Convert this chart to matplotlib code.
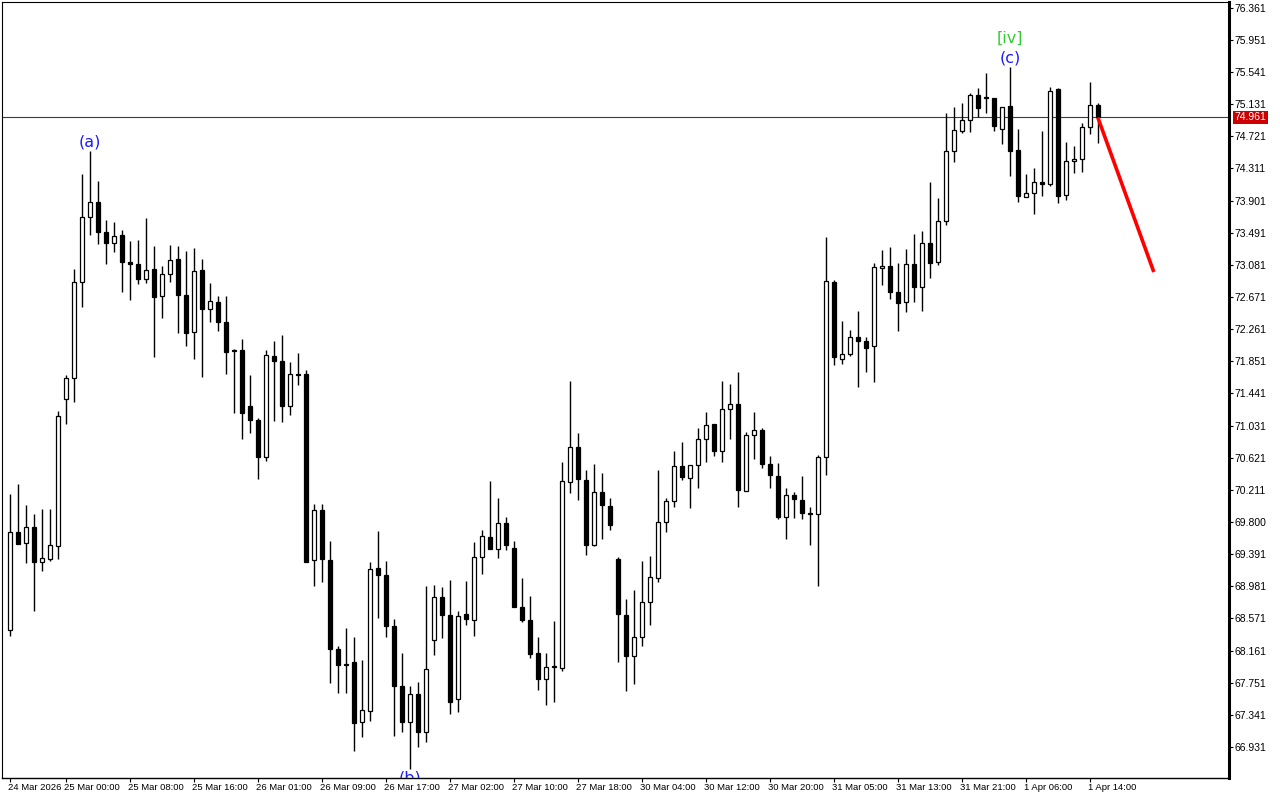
import matplotlib
matplotlib.use("Agg")
import matplotlib.pyplot as plt
import matplotlib.transforms as mtransforms

# ---------------- data (H1 candles) ----------------
opens = [68.42, 69.67, 69.53, 69.74, 69.29, 69.33, 69.50, 71.37, 71.64, 72.86,
         73.69, 73.88, 73.50, 73.36, 73.46, 73.12, 73.09, 72.90, 73.03, 72.68,
         72.97, 73.16, 72.70, 72.23, 73.02, 72.52, 72.61, 72.35, 72.00, 72.00,
         71.28, 71.10, 70.63, 71.92, 71.86, 71.28, 71.69, 71.69, 69.32, 69.95,
         69.32, 68.18, 67.99, 68.02, 67.25, 67.39, 69.21, 69.13, 68.47, 67.71,
         67.25, 67.61, 67.12, 68.30, 68.84, 68.61, 67.54, 68.63, 68.55, 69.35,
         69.61, 69.46, 69.79, 69.47, 68.72, 68.55, 68.13, 67.80, 67.95, 67.94,
         70.31, 70.76, 70.34, 69.51, 70.18, 70.01, 69.33, 68.61, 68.09, 68.33,
         68.78, 69.09, 69.80, 70.07, 70.51, 70.36, 70.53, 70.86, 71.05, 70.71,
         71.24, 71.31, 70.20, 70.91, 70.97, 70.54, 70.39, 69.86, 70.15, 70.08,
         69.92, 69.90, 70.63, 72.86, 71.88, 71.94, 72.16, 72.11, 72.05, 73.04,
         73.07, 72.74, 72.61, 73.09, 72.80, 73.36, 73.12, 73.64, 74.53, 74.79,
         74.93, 75.25, 75.22, 75.21, 74.81, 75.11, 74.55, 73.95, 74.00, 74.14,
         74.11, 75.32, 73.97, 74.41, 74.43, 74.84, 75.12]
highs = [70.16, 70.29, 70.02, 69.90, 69.97, 69.97, 71.22, 71.68, 73.03, 74.24,
         74.53, 74.15, 73.65, 73.63, 73.53, 73.39, 73.40, 73.68, 73.32, 73.07,
         73.34, 73.32, 73.26, 73.30, 73.16, 72.85, 72.68, 72.68, 72.01, 72.14,
         71.68, 71.13, 72.00, 72.11, 72.19, 71.84, 71.96, 71.74, 70.03, 70.03,
         69.56, 68.22, 68.45, 68.33, 68.04, 69.29, 69.69, 69.30, 68.56, 68.13,
         67.71, 67.76, 68.99, 69.00, 68.97, 69.06, 68.67, 69.05, 69.55, 69.70,
         70.32, 70.11, 69.86, 69.56, 69.09, 68.86, 68.33, 68.13, 68.54, 70.57,
         71.60, 70.94, 70.46, 70.54, 70.43, 70.11, 69.35, 68.82, 68.93, 69.30,
         69.37, 70.46, 70.11, 70.71, 70.82, 70.53, 71.00, 71.20, 71.05, 71.60,
         71.56, 71.71, 70.95, 71.20, 71.00, 70.64, 70.55, 70.23, 70.18, 70.39,
         69.99, 70.66, 73.44, 72.89, 72.37, 72.25, 72.49, 72.16, 73.10, 73.27,
         73.31, 73.10, 73.28, 73.47, 73.51, 74.14, 73.93, 75.02, 75.09, 75.15,
         75.27, 75.34, 75.53, 75.21, 75.09, 75.61, 74.81, 74.24, 74.32, 74.79,
         75.35, 75.34, 74.65, 74.60, 74.89, 75.41, 75.15]
lows = [68.35, 69.52, 69.28, 68.67, 69.18, 69.30, 69.33, 71.05, 71.33, 72.54,
        73.46, 73.35, 73.09, 73.25, 72.74, 72.63, 72.84, 72.85, 71.91, 72.40,
        72.86, 72.21, 72.05, 71.88, 71.65, 72.35, 72.24, 71.69, 71.19, 70.86,
        70.94, 70.35, 70.58, 71.09, 71.08, 71.17, 71.55, 69.29, 68.99, 69.04,
        67.75, 67.62, 67.62, 66.88, 67.06, 67.26, 68.58, 68.33, 67.07, 67.12,
        66.65, 66.93, 66.99, 68.10, 68.32, 67.35, 67.38, 68.49, 68.35, 69.14,
        69.46, 69.34, 69.44, 68.72, 68.53, 68.07, 67.66, 67.47, 67.50, 67.90,
        70.17, 70.08, 69.38, 69.50, 69.58, 69.70, 68.02, 67.64, 67.73, 68.22,
        68.49, 69.04, 69.67, 69.99, 70.34, 69.98, 70.23, 70.57, 70.64, 70.57,
        70.86, 69.99, 70.20, 70.60, 70.49, 70.23, 69.84, 69.58, 69.85, 69.84,
        69.51, 68.99, 70.40, 71.80, 71.82, 71.92, 71.52, 71.71, 71.59, 72.82,
        72.65, 72.24, 72.48, 72.61, 72.49, 72.91, 73.08, 73.59, 74.39, 74.76,
        74.78, 74.97, 75.02, 74.79, 74.62, 74.21, 73.88, 73.95, 73.73, 73.96,
        74.09, 73.87, 73.91, 74.25, 74.27, 74.75, 74.64]
closes = [69.67, 69.52, 69.74, 69.29, 69.34, 69.51, 71.15, 71.64, 72.86, 73.69,
          73.88, 73.50, 73.36, 73.45, 73.12, 73.09, 72.90, 73.02, 72.67, 72.97,
          73.14, 72.70, 72.21, 73.00, 72.52, 72.62, 72.35, 71.97, 71.98, 71.19,
          71.10, 70.63, 71.93, 71.86, 71.28, 71.69, 71.68, 69.29, 69.95, 69.33,
          68.18, 67.98, 67.98, 67.24, 67.40, 69.20, 69.13, 68.47, 67.71, 67.25,
          67.61, 67.12, 67.93, 68.84, 68.61, 67.50, 68.60, 68.56, 69.35, 69.62,
          69.46, 69.79, 69.51, 68.72, 68.55, 68.12, 67.80, 67.95, 67.96, 70.32,
          70.76, 70.35, 69.51, 70.18, 70.02, 69.76, 68.63, 68.09, 68.33, 68.78,
          69.10, 69.80, 70.07, 70.51, 70.37, 70.53, 70.86, 71.04, 70.71, 71.24,
          71.31, 70.21, 70.91, 70.97, 70.54, 70.40, 69.86, 70.15, 70.09, 69.92,
          69.90, 70.63, 72.87, 71.91, 71.94, 72.16, 72.11, 72.02, 73.05, 73.07,
          72.74, 72.59, 73.09, 72.80, 73.36, 73.10, 73.64, 74.53, 74.80, 74.93,
          75.25, 75.08, 75.21, 74.85, 75.09, 74.53, 73.96, 74.00, 74.14, 74.11,
          75.30, 73.96, 74.41, 74.43, 74.84, 75.12, 74.961]

time_labels = ["24 Mar 2026", "25 Mar 00:00", "25 Mar 08:00", "25 Mar 16:00",
               "26 Mar 01:00", "26 Mar 09:00", "26 Mar 17:00", "27 Mar 02:00",
               "27 Mar 10:00", "27 Mar 18:00", "30 Mar 04:00", "30 Mar 12:00",
               "30 Mar 20:00", "31 Mar 05:00", "31 Mar 13:00", "31 Mar 21:00",
               "1 Apr 06:00", "1 Apr 14:00"]
time_label_bars = [0, 7, 15, 23, 31, 39, 47, 55, 63, 71, 79, 87, 95, 103, 111, 119, 127, 135]

price_ticks = [76.361, 75.951, 75.541, 75.131, 74.721, 74.311, 73.901, 73.491,
               73.081, 72.671, 72.261, 71.851, 71.441, 71.031, 70.621, 70.211,
               69.800, 69.391, 68.981, 68.571, 68.161, 67.751, 67.341, 66.931]
price_tick_labels = ["76.361", "75.951", "75.541", "75.131", "74.721", "74.311",
                     "73.901", "73.491", "73.081", "72.671", "72.261", "71.851",
                     "71.441", "71.031", "70.621", "70.211", "69.800", "69.391",
                     "68.981", "68.571", "68.161", "67.751", "67.341", "66.931"]

last_price = 74.961
forecast_bars = [136, 143]
forecast_prices = [74.961, 72.99]

wave_labels = [("(a)", 10, "high"), ("(b)", 50, "low"), ("(c)", 125, "high")]
wave_sup_label = ("[iv]", 125)

# ---------------- figure ----------------
plt.rcParams['font.family'] = ['Liberation Sans', 'DejaVu Sans']
fig = plt.figure(figsize=(12.8, 8), dpi=100)
ax = fig.add_axes([2 / 1280, 22 / 800, 1227 / 1280, 776 / 800])
ax.set_xlim(-1, 152.4)
ax.set_ylim(66.535, 76.434)

n = len(opens)
xs = list(range(n))
body_w = 0.58
for i in xs:
    o, h, l, c = opens[i], highs[i], lows[i], closes[i]
    ax.vlines(i, l, h, color='black', linewidth=1.0, zorder=2)
    bull = c >= o
    bottom = min(o, c)
    height = abs(c - o)
    ax.bar(i, height, bottom=bottom, width=body_w,
           color='white' if bull else 'black', edgecolor='black',
           linewidth=0.9, zorder=3)

# current price line
ax.axhline(last_price, color='#6b2a2a', linewidth=0.8, zorder=1)

# forecast line
ax.plot(forecast_bars, forecast_prices, color='#ff0000', linewidth=2.6,
        solid_capstyle='butt', zorder=4)

# wave labels
for txt, bi, side in wave_labels:
    if side == "high":
        ax.annotate(txt, (bi, highs[bi]), xytext=(0, 1), textcoords='offset points',
                    ha='center', va='bottom', color='#1a1aff', fontsize=11.5,
                    family='DejaVu Sans', zorder=5)
    else:
        ax.annotate(txt, (bi, lows[bi]), xytext=(0, -1), textcoords='offset points',
                    ha='center', va='top', color='#1a1aff', fontsize=11.5,
                    family='DejaVu Sans', annotation_clip=False, clip_on=True, zorder=5)
ax.annotate(wave_sup_label[0], (wave_sup_label[1], highs[wave_sup_label[1]]),
            xytext=(0, 15), textcoords='offset points', ha='center', va='bottom',
            color='#33cc33', fontsize=11.5, family='DejaVu Sans', zorder=5)

# spines
for s in ['left', 'top']:
    ax.spines[s].set_linewidth(0.8)
ax.spines['bottom'].set_linewidth(1.0)
ax.spines['right'].set_linewidth(2.2)

# y axis on the right
ax.yaxis.tick_right()
ax.set_yticks(price_ticks)
ax.set_yticklabels(price_tick_labels)
ax.tick_params(axis='y', direction='out', length=3, width=0.8, labelsize=7.5, pad=1)

# x axis labels
ax.set_xticks(time_label_bars)
ax.set_xticklabels([])
ax.tick_params(axis='x', direction='out', length=3, width=0.8)
trans_x = mtransforms.blended_transform_factory(ax.transData, ax.transAxes)
for b, lab in zip(time_label_bars, time_labels):
    xpos = max(b - 0.2, -0.85)
    ax.text(xpos, -0.0065, lab, transform=trans_x, ha='left', va='top',
            fontsize=6.8, color='black')

# current price tag
trans_y = mtransforms.blended_transform_factory(ax.transAxes, ax.transData)
ax.text(1.0045, last_price, "74.961", transform=trans_y, ha='left', va='center',
        fontsize=7.5, color='white',
        bbox=dict(boxstyle='square,pad=0.12', facecolor='#cc0000', edgecolor='none'),
        zorder=6)

fig.savefig('out.png', dpi=100)
